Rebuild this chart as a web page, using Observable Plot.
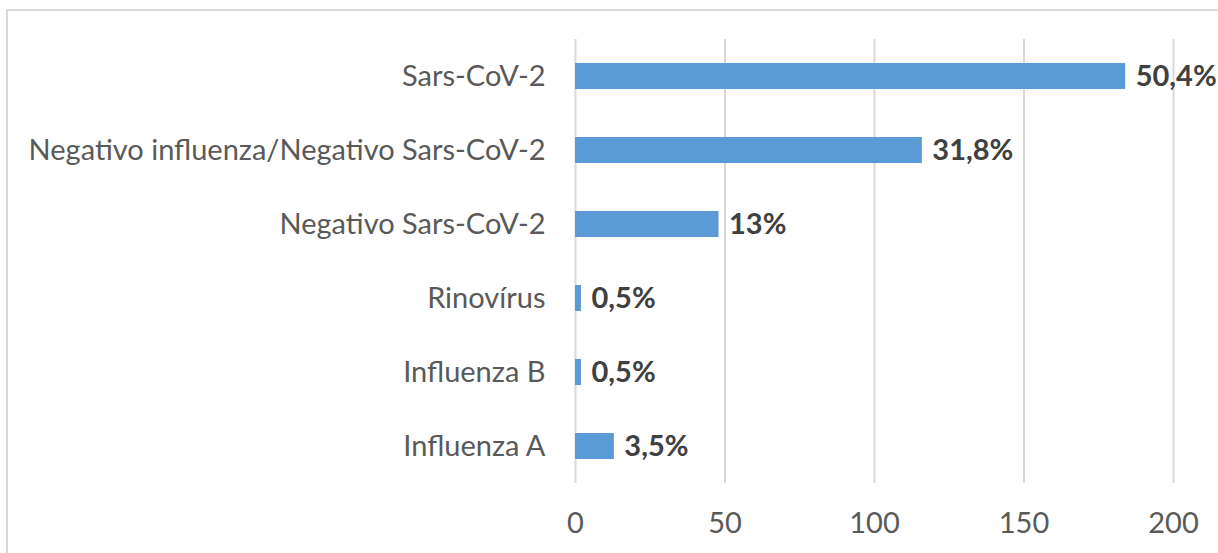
<!DOCTYPE html>
<html>
<head>
<meta charset="utf-8">
<script src="https://cdn.jsdelivr.net/npm/d3@7"></script>
<script src="https://cdn.jsdelivr.net/npm/@observablehq/plot@0.6"></script>
<style>
  html, body { margin: 0; padding: 0; background: #fff; }
  #wrap { position: relative; width: 1218px; height: 553px; overflow: hidden; }
  #frame { position: absolute; left: 6px; top: 9px; right: -10px; bottom: -10px;
           border-left: 2px solid #d9d9d9; border-top: 2px solid #d9d9d9; pointer-events: none; }
  svg { font-family: Lato, "Open Sans", sans-serif; }
</style>
</head>
<body>
<div id="wrap"><div id="frame"></div></div>
<script>
const categories = ["Sars-CoV-2", "Negativo influenza/Negativo Sars-CoV-2", "Negativo Sars-CoV-2", "Rinovírus", "Influenza B", "Influenza A"];
const values = [184, 116, 48, 2, 2, 13];
const percentLabels = ["50,4%", "31,8%", "13%", "0,5%", "0,5%", "3,5%"];
const xTicks = [0, 50, 100, 150, 200];

const data = categories.map((c, i) => ({category: c, value: values[i], label: percentLabels[i]}));

const FS = 29;
const chart = Plot.plot({
  width: 1218,
  height: 553,
  marginLeft: 575,
  marginRight: 45,
  marginTop: 39,
  marginBottom: 70,
  style: {fontFamily: "Lato, 'Open Sans', sans-serif", background: "transparent", overflow: "visible"},
  x: {domain: [0, 200], ticks: xTicks, label: null},
  y: {domain: categories, paddingInner: 0.65, paddingOuter: 0.325, label: null},
  marks: [
    Plot.ruleX(xTicks, {stroke: "#d9d9d9", strokeWidth: 2}),
    Plot.barX(data, {y: "category", x: "value", fill: "#5b9bd5"}),
    Plot.text(data, {y: "category", x: "value", text: "label", textAnchor: "start", dx: 10,
      fill: "#404040", fontWeight: "bold", fontSize: FS}),
    Plot.axisX(xTicks, {tickSize: 0, tickPadding: 29, fontSize: FS, color: "#595959", label: null}),
    Plot.axisY({tickSize: 0, tickPadding: 30, fontSize: FS, color: "#595959", label: null})
  ]
});
document.getElementById("wrap").prepend(chart);
</script>
</body>
</html>
